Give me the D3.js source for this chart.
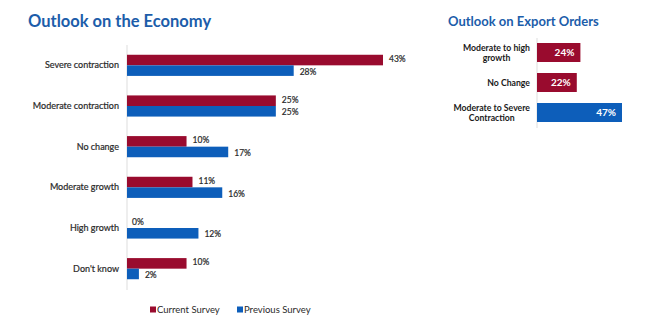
<!DOCTYPE html>
<html><head><meta charset="utf-8">
<script src="https://cdn.jsdelivr.net/npm/d3@7"></script>
<style>body{margin:0;background:#fff}svg{display:block}</style>
</head><body>
<svg id="c" width="654" height="336"></svg>
<script>
const categories = ["Severe contraction","Moderate contraction","No change","Moderate growth","High growth","Don't know"];
const currentSurvey = [43,25,10,11,0,10];
const previousSurvey = [28,25,17,16,12,2];
const seriesNames = ["Current Survey","Previous Survey"];
const exportCategories = [["Moderate to high","growth"],["No Change"],["Moderate to Severe","Contraction"]];
const exportValues = [24,22,47];
const exportColorKey = [0,0,1];

const RED = "#990B2E", BLUE = "#0D5EBA", TITLE = "#1C5DAA", TXT = "#2a2a2a";
const FONT = "Lato, 'Open Sans', sans-serif";
const svg = d3.select("#c");

// Left chart
svg.append("text").attr("x",28).attr("y",27).attr("fill",TITLE)
  .attr("font-family",FONT).attr("font-weight","bold").attr("font-size",16.5)
  .text("Outlook on the Economy");

const x = d3.scaleLinear().domain([0,43]).range([127,383]);
const y = d3.scaleBand().domain(categories).range([45,289]).paddingInner(0.48).paddingOuter(0.24);
const sub = d3.scaleBand().domain([0,1]).range([0,y.bandwidth()]);
const g = svg.append("g");
g.append("line").attr("x1",127).attr("x2",127).attr("y1",45).attr("y2",290)
  .attr("stroke","#ddd").attr("stroke-width",1);

const rows = categories.map((c,i)=>({c, vals:[currentSurvey[i],previousSurvey[i]]}));
const rg = g.selectAll("g.row").data(rows).join("g").attr("transform",d=>`translate(0,${y(d.c)})`);
rg.append("text").attr("x",119).attr("y",y.bandwidth()/2).attr("dy","0.35em")
  .attr("text-anchor","end").attr("font-family",FONT).attr("font-size",9).attr("fill",TXT)
  .attr("stroke",TXT).attr("stroke-width",0.2)
  .text(d=>d.c);
rg.selectAll("rect").data(d=>d.vals.map((v,k)=>({v,k}))).join("rect")
  .attr("x",x(0)).attr("y",d=>sub(d.k)).attr("height",sub.bandwidth())
  .attr("width",d=>x(d.v)-x(0)).attr("fill",d=>d.k?BLUE:RED);
rg.selectAll("text.v").data(d=>d.vals.map((v,k)=>({v,k}))).join("text").attr("class","v")
  .attr("x",d=>x(d.v)+ (d.v===0?5:6)).attr("y",d=>sub(d.k)+sub.bandwidth()/2 + (d.k?1:-1))
  .attr("dy","0.35em").attr("font-family",FONT).attr("font-size",8.5).attr("fill",TXT)
  .attr("stroke",TXT).attr("stroke-width",0.2)
  .text(d=>d.v+"%");

// Legend
const lg = svg.append("g").attr("transform","translate(150,310)");
const lItems = [{n:seriesNames[0],c:RED,x:0},{n:seriesNames[1],c:BLUE,x:87}];
lItems.forEach(it=>{
  lg.append("rect").attr("x",it.x).attr("y",-3.5).attr("width",6).attr("height",6).attr("fill",it.c);
  lg.append("text").attr("x",it.x+7).attr("y",0).attr("dy","0.35em").attr("font-family",FONT)
    .attr("font-size",9.5).attr("fill",TXT).text(it.n);
});

// Right chart
svg.append("text").attr("x",448).attr("y",26).attr("fill",TITLE)
  .attr("font-family",FONT).attr("font-weight","bold").attr("font-size",13)
  .text("Outlook on Export Orders");
const x2 = d3.scaleLinear().domain([0,47]).range([537,622]);
const y2 = d3.scaleBand().domain(d3.range(exportValues.length)).range([43,122]).paddingInner(0.367).paddingOuter(0);
svg.append("line").attr("x1",537).attr("x2",537).attr("y1",38).attr("y2",128)
  .attr("stroke","#ddd");
exportValues.forEach((v,i)=>{
  svg.append("rect").attr("x",x2(0)).attr("y",y2(i)).attr("width",x2(v)-x2(0))
    .attr("height",y2.bandwidth()).attr("fill",exportColorKey[i]?BLUE:RED);
  svg.append("text").attr("x",x2(v)-6).attr("y",y2(i)+y2.bandwidth()/2).attr("dy","0.35em")
    .attr("text-anchor","end").attr("font-family",FONT).attr("font-weight","bold")
    .attr("font-size",10).attr("fill","#fff").text(v+"%");
  const lines = exportCategories[i];
  const t = svg.append("text").attr("font-family",FONT).attr("font-weight","bold")
    .attr("font-size",8.7).attr("fill","#1a1a1a").attr("text-anchor","middle");
  const lh = 10;
  const cy = y2(i)+y2.bandwidth()/2;
  const spans = lines.map((l,j)=>t.append("tspan").attr("y",cy+(j-(lines.length-1)/2)*lh).attr("dy","0.35em").text(l));
  let mw = 0; spans.forEach(s=>{mw=Math.max(mw,s.node().getComputedTextLength());});
  spans.forEach(s=>s.attr("x",530-mw/2));
});
</script>
</body></html>
